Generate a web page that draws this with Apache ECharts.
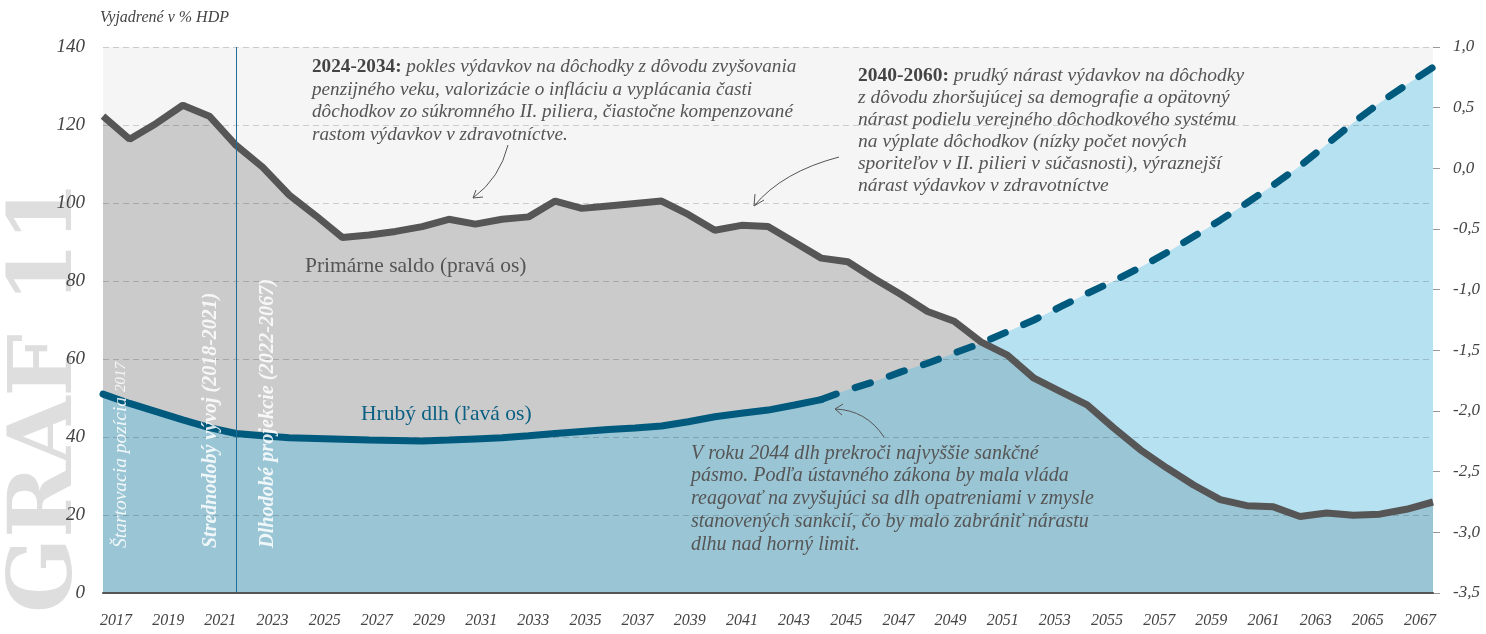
<!DOCTYPE html>
<html>
<head>
<meta charset="utf-8">
<script src="https://cdn.jsdelivr.net/npm/echarts@6/dist/echarts.min.js"></script>
<style>
  html, body { margin: 0; padding: 0; background: #ffffff; }
  #chart { width: 1486px; height: 634px; }
</style>
</head>
<body>
<div id="chart"></div>
<script>
// roky projekcie
var years = ['2017','2018','2019','2020','2021','2022','2023','2024','2025','2026',
  '2027','2028','2029','2030','2031','2032','2033','2034','2035','2036',
  '2037','2038','2039','2040','2041','2042','2043','2044','2045','2046',
  '2047','2048','2049','2050','2051','2052','2053','2054','2055','2056',
  '2057','2058','2059','2060','2061','2062','2063','2064','2065','2066','2067'];

// hruby dlh, % HDP (lava os)
var debt = [51.0, 48.6, 46.5, 44.4, 42.4, 40.9, 40.3, 39.8, 39.6, 39.4,
  39.2, 39.1, 39.0, 39.2, 39.5, 39.8, 40.3, 40.9, 41.4, 41.9,
  42.3, 42.8, 43.9, 45.2, 46.1, 46.9, 48.2, 49.6, 52.1, 54.2,
  56.7, 58.9, 61.5, 64.0, 67.0, 70.0, 73.4, 76.8, 80.0, 83.5,
  87.3, 91.4, 95.6, 100.0, 104.6, 109.5, 115.0, 120.6, 125.7, 130.3, 134.8];

// primarne saldo, % HDP (prava os)
var saldo = [0.43, 0.24, 0.37, 0.52, 0.43, 0.19, 0.01, -0.22, -0.39, -0.57,
  -0.55, -0.52, -0.48, -0.42, -0.46, -0.42, -0.40, -0.27, -0.33, -0.31,
  -0.29, -0.27, -0.38, -0.51, -0.47, -0.48, -0.61, -0.74, -0.77, -0.91,
  -1.04, -1.18, -1.26, -1.43, -1.54, -1.73, -1.84, -1.95, -2.14, -2.32,
  -2.47, -2.61, -2.73, -2.78, -2.79, -2.87, -2.84, -2.86, -2.85, -2.81, -2.75];

var lastActual = '2044';   // od tohto roku ciarkovana ciara dlhu
var phaseLine = '2022';    // zaciatok dlhodobych projekcii

var serif = '"Liberation Serif", "DejaVu Serif", serif';
var inkGray = '#555555';
var debtBlue = '#005a7d';

// rozdelenie dlhu na plnu a ciarkovanu cast
var cut = years.indexOf(lastActual);
var debtSolid = debt.map(function (v, i) { return i <= cut ? v : null; });
var debtDash = debt.map(function (v, i) { return i >= cut ? v : null; });

var chart = echarts.init(document.getElementById('chart'));

function arrow(x1, y1, cx, cy, x2, y2, a1, a2) {
  return [{
    type: 'bezierCurve',
    shape: { x1: x1, y1: y1, cpx1: cx, cpy1: cy, x2: x2, y2: y2 },
    style: { stroke: inkGray, lineWidth: 1, fill: null },
    z: 50
  }, {
    type: 'polyline',
    shape: { points: [a1, [x2, y2], a2] },
    style: { stroke: inkGray, lineWidth: 1, fill: null },
    z: 50
  }];
}

function note(x, y, size, lh, lines) {
  return {
    type: 'text', x: x, y: y, z: 50,
    style: {
      text: lines.join('\n'), textVerticalAlign: 'top',
      fontFamily: serif, fontSize: size, fontStyle: 'italic', fill: inkGray,
      lineHeight: lh,
      rich: { b: { fontFamily: serif, fontSize: size, fontWeight: 'bold', fontStyle: 'normal', fill: '#444', lineHeight: lh } }
    }
  };
}

function vertText(x, y, text, bold, size) {
  return {
    type: 'text', x: x, y: y, rotation: Math.PI / 2, z: 50,
    style: {
      text: text, fontFamily: serif, fontSize: size, fontStyle: 'italic',
      fontWeight: bold ? 'bold' : 'normal', fill: 'rgba(255,255,255,0.85)',
      textAlign: 'left', textVerticalAlign: 'middle',
      rich: { s: { fontFamily: serif, fontSize: 15, fontStyle: 'italic', fill: 'rgba(255,255,255,0.85)' } }
    }
  };
}

var graphics = [
  {
    type: 'text', x: 100, y: 18, z: 50,
    style: { text: 'Vyjadrené v % HDP', fontFamily: serif, fontSize: 16, fontStyle: 'italic',
      fill: '#444', textVerticalAlign: 'middle' }
  },
  {
    type: 'text', x: 48, y: 613, rotation: Math.PI / 2, z: -1,
    style: { text: 'GRAF 11', fontFamily: '"DejaVu Serif", serif', fontSize: 88, fontWeight: 'bold',
      fill: '#dedede', textAlign: 'left', textVerticalAlign: 'middle' }
  },
  vertText(121, 548, 'Štartovacia pozícia {s|2017}', false, 19.5),
  vertText(211, 548, 'Strednodobý vývoj (2018-2021)', true, 20),
  vertText(268, 548, 'Dlhodobé projekcie (2022-2067)', true, 20.3),
  {
    type: 'text', x: 305, y: 266, z: 50,
    style: { text: 'Primárne saldo (pravá os)', fontFamily: serif, fontSize: 21.5,
      fill: inkGray, textVerticalAlign: 'middle' }
  },
  {
    type: 'text', x: 361, y: 414, z: 50,
    style: { text: 'Hrubý dlh (ľavá os)', fontFamily: serif, fontSize: 21.5,
      fill: '#0a5f82', textVerticalAlign: 'middle' }
  },
  note(312, 56, 19.2, 22.5, [
    '{b|2024-2034:} pokles výdavkov na dôchodky z dôvodu zvyšovania',
    'penzijného veku, valorizácie o infláciu a vyplácania časti',
    'dôchodkov zo súkromného II. piliera, čiastočne kompenzované',
    'rastom výdavkov v zdravotníctve.'
  ]),
  note(858, 65, 19.5, 22, [
    '{b|2040-2060:} prudký nárast výdavkov na dôchodky',
    'z dôvodu zhoršujúcej sa demografie a opätovný',
    'nárast podielu verejného dôchodkového systému',
    'na výplate dôchodkov (nízky počet nových',
    'sporiteľov v II. pilieri v súčasnosti), výraznejší',
    'nárast výdavkov v zdravotníctve'
  ]),
  note(691, 442, 20, 22.8, [
    'V roku 2044 dlh prekroči najvyššie sankčné',
    'pásmo. Podľa ústavného zákona by mala vláda',
    'reagovať na zvyšujúci sa dlh opatreniami v zmysle',
    'stanovených sankcií, čo by malo zabrániť nárastu',
    'dlhu nad horný limit.'
  ])
];
graphics = graphics
  .concat(arrow(508, 145, 500, 178, 473, 198, [476, 190], [483, 197]))
  .concat(arrow(839, 157, 782, 172, 754, 206, [755, 194], [764, 200]))
  .concat(arrow(884, 437, 866, 410, 835, 409, [843, 404], [842, 415]));

var option = {
  animation: false,
  backgroundColor: '#ffffff',
  grid: {
    left: 103, right: 53, top: 47, bottom: 41,
    show: true, backgroundColor: '#f5f5f5', borderWidth: 0
  },
  xAxis: [{
    type: 'category',
    data: years,
    boundaryGap: false,
    axisLine: { show: true, lineStyle: { color: '#555', width: 2 } },
    axisTick: { show: false },
    axisLabel: { show: false },
    splitLine: { show: false },
    z: 5
  }, {
    type: 'category',
    data: years,
    boundaryGap: true,
    position: 'bottom',
    axisLine: { show: false },
    axisTick: { show: false },
    axisLabel: {
      interval: 1, margin: 20, color: '#444',
      fontFamily: serif, fontSize: 16, fontStyle: 'italic'
    },
    splitLine: { show: false }
  }],
  yAxis: [{
    type: 'value',
    min: 0, max: 140, interval: 20,
    axisLine: { show: false },
    axisTick: { show: false },
    axisLabel: {
      margin: 18, color: '#444',
      fontFamily: serif, fontSize: 19, fontStyle: 'italic'
    },
    splitLine: { show: true, lineStyle: { color: 'rgba(0,0,0,0.17)', type: [6, 4], width: 1 } },
    z: 2
  }, {
    type: 'value',
    min: -3.5, max: 1, interval: 0.5,
    position: 'right',
    axisLine: { show: false },
    axisTick: { show: true, length: 7, lineStyle: { color: '#999' } },
    axisLabel: {
      margin: 20, color: '#444',
      fontFamily: serif, fontSize: 17, fontStyle: 'italic',
      formatter: function (v) { return v.toFixed(1).replace('.', ','); }
    },
    splitLine: { show: false }
  }],
  series: [{
    name: 'saldo-area',
    type: 'line',
    yAxisIndex: 1,
    data: saldo,
    showSymbol: false,
    lineStyle: { width: 0 },
    areaStyle: { color: '#cbcbcb', opacity: 1, origin: 'start' },
    z: 1,
    silent: true
  }, {
    name: 'debt-area',
    type: 'line',
    yAxisIndex: 0,
    data: debt,
    showSymbol: false,
    lineStyle: { width: 0 },
    areaStyle: { color: 'rgba(54,184,233,0.33)', opacity: 1, origin: 'start' },
    z: 1,
    silent: true,
    markLine: {
      silent: true,
      symbol: 'none',
      label: { show: false },
      lineStyle: { color: '#1f6f9a', width: 1, type: 'solid' },
      data: [{ xAxis: phaseLine }]
    }
  }, {
    name: 'Primárne saldo',
    type: 'line',
    yAxisIndex: 1,
    data: saldo,
    showSymbol: false,
    lineStyle: { color: '#565656', width: 7 },
    z: 3
  }, {
    name: 'Hrubý dlh',
    type: 'line',
    yAxisIndex: 0,
    data: debtSolid,
    showSymbol: false,
    lineStyle: { color: debtBlue, width: 7, cap: 'round' },
    z: 4
  }, {
    name: 'Hrubý dlh projekcia',
    type: 'line',
    yAxisIndex: 0,
    data: debtDash,
    showSymbol: false,
    lineStyle: { color: debtBlue, width: 7, type: [16, 20], cap: 'round' },
    z: 4
  }],
  graphic: graphics
};

chart.setOption(option);
</script>
</body>
</html>
